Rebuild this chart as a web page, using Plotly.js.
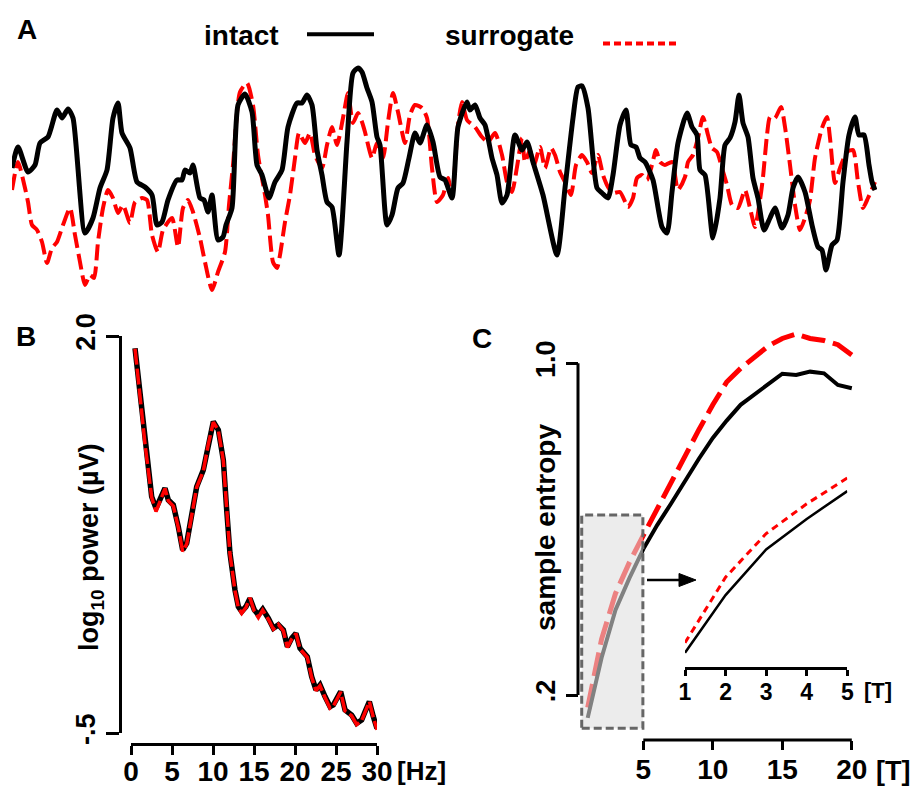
<!DOCTYPE html>
<html>
<head>
<meta charset="utf-8">
<script src="https://cdn.plot.ly/plotly-3.0.1.min.js"></script>
<style>html,body{margin:0;padding:0;background:#fff;}#chart{width:910px;height:786px;}</style>
</head>
<body>
<div id="chart"></div>
<script>
// ---------- Panel A: raw traces (time in samples, amplitude in a.u.) ----------
var timeIntact = [0,6,16,23,28,36,45,50,56,61,73,81,88,95,101,106,110,118,125,133,140,145,150,156,165,170,173,178,181,188,192,196,200,206,211,214,220,226,233,240,245,250,257,263,270,276,285,290,295,300,305,310,315,320,327,335,341,346,350,355,360,365,368,375,380,386,391,397,403,408,415,421,428,433,440,446,455,458,463,468,473,480,485,490,495,503,510,515,521,531,545,553,561,566,570,576,585,590,596,601,608,614,619,624,628,633,641,650,655,660,666,675,680,685,688,693,701,708,713,718,723,727,731,736,741,746,752,758,763,770,776,781,786,793,800,806,810,814,820,825,831,837,843,847,852,857,860,863];
var ampIntact  = [12,33,8,15,37,43,70,62,71,62,-53,-38,-8,10,62,77,47,32,-2,-7,-15,-45,-42,-20,0,0,10,7,15,-18,-20,-32,-15,-60,-57,-45,-28,75,86,68,15,5,-18,-2,10,53,77,77,85,75,30,5,-22,-27,-75,38,107,112,108,92,78,43,35,-45,-35,-8,-3,22,47,37,55,38,3,0,-18,53,78,70,75,62,55,22,5,-23,-15,45,30,38,18,-15,-75,-8,62,93,94,72,-8,-13,-18,5,55,70,35,33,22,18,0,-47,-53,-12,37,67,53,45,10,5,-58,-18,35,42,58,85,57,43,2,-18,-50,-38,-28,-48,-35,-8,3,-12,-45,-67,-70,-90,-65,-60,-2,45,63,45,45,15,-2,-10];

var timeSurrogate = [0,6,13,16,20,25,30,35,40,45,51,58,63,68,73,78,82,86,91,96,101,106,111,118,123,130,135,140,146,151,160,166,171,176,181,188,193,200,206,213,217,221,228,235,241,246,253,256,261,265,268,273,278,283,287,293,298,303,310,315,320,325,331,336,341,346,350,353,360,365,371,376,381,386,393,398,403,410,415,420,425,431,436,440,446,450,455,463,470,476,483,490,495,500,505,510,513,518,522,528,533,539,543,548,553,559,564,570,575,580,586,591,596,601,608,616,621,625,630,635,640,644,648,653,660,666,673,676,681,686,691,696,700,705,710,715,720,726,733,738,743,748,751,755,758,763,769,773,778,783,788,793,798,803,810,815,818,823,828,835,841,846,851,856,863];
var ampSurrogate  = [-10,18,-8,-22,-45,-50,-62,-83,-68,-62,-45,-28,-55,-82,-105,-95,-98,-62,-28,-10,-18,-33,-25,-43,-22,-18,-20,-55,-72,-50,-38,-67,-28,-20,-32,-58,-82,-110,-92,-72,-25,15,88,97,75,25,-15,-35,-82,-88,-75,-42,-15,22,47,37,47,25,12,35,53,35,62,87,57,67,58,48,22,37,22,58,87,68,37,65,75,72,62,12,-22,-15,2,-18,55,78,60,53,43,38,47,25,-2,-12,13,42,18,30,15,33,12,32,25,8,-2,-15,15,25,18,7,25,5,-7,-13,-12,-27,-18,2,5,0,15,30,18,15,18,-10,3,18,25,42,63,45,32,28,12,-5,-25,-28,-10,-28,-47,-20,3,45,63,62,73,53,15,-25,-50,-38,-20,22,52,63,42,-3,12,28,30,-2,-28,-18,-2];

// ---------- Panel B: power spectrum ----------
var freqHz = [0.49,1.10,1.71,2.52,3.05,3.54,4.15,4.55,5.16,5.77,6.30,6.79,7.28,8.01,8.82,9.43,10.04,10.65,11.26,11.67,12.07,12.68,13.09,13.50,14.02,14.51,15.04,15.53,16.06,16.75,17.36,17.97,18.58,19.07,19.59,20.12,20.61,21.50,22.03,22.56,23.05,23.66,24.27,24.67,25.08,25.57,26.10,26.91,27.52,28.13,28.54,29.07,29.55,30.0];
var powIntact = [1.923,1.618,1.325,0.989,0.916,0.968,1.042,0.968,0.937,0.800,0.654,0.696,0.842,1.052,1.157,1.325,1.461,1.409,1.220,0.905,0.633,0.402,0.297,0.266,0.297,0.349,0.276,0.245,0.280,0.224,0.161,0.182,0.150,0.045,0.098,0.129,0.035,-0.018,-0.143,-0.227,-0.196,-0.269,-0.332,-0.322,-0.290,-0.238,-0.353,-0.385,-0.437,-0.416,-0.364,-0.301,-0.395,-0.469];
var powSurrogate = [1.920,1.612,1.320,0.985,0.895,0.960,1.040,0.962,0.930,0.795,0.644,0.690,0.838,1.048,1.150,1.320,1.458,1.405,1.215,0.900,0.628,0.398,0.290,0.255,0.292,0.352,0.268,0.228,0.275,0.218,0.155,0.185,0.145,0.040,0.092,0.128,0.030,-0.022,-0.148,-0.232,-0.200,-0.275,-0.342,-0.330,-0.292,-0.240,-0.360,-0.390,-0.445,-0.420,-0.368,-0.300,-0.400,-0.478];

// ---------- Panel C: sample entropy vs scale ----------
var scaleT = [1,2,3,4,5,6,7,8,9,10,11,12,13,14,15,16,17,18,19,20];
var entIntact = [0.145,0.290,0.405,0.482,0.552,0.610,0.662,0.718,0.770,0.820,0.862,0.900,0.926,0.950,0.975,0.972,0.980,0.976,0.948,0.940];
var entSurrogate = [0.170,0.335,0.445,0.520,0.585,0.650,0.712,0.776,0.840,0.900,0.955,0.988,1.016,1.042,1.060,1.071,1.060,1.055,1.045,1.020];
var insetT = [1,2,3,4,5];

// ---------- helpers ----------
var W = 910, H = 786;
function fx(px){ return px / W; }
function fy(py){ return 1 - py / H; }
var FONT = 'Liberation Sans, Arial, Helvetica, sans-serif';

var traces = [
  {x: timeSurrogate, y: ampSurrogate, xaxis:'x', yaxis:'y', mode:'lines',
   line:{color:'#ff0000', width:4, dash:'16px,6px', shape:'spline', smoothing:0.6}},
  {x: timeIntact, y: ampIntact, xaxis:'x', yaxis:'y', mode:'lines',
   line:{color:'#000000', width:5, shape:'spline', smoothing:0.6}},

  {x: freqHz, y: powIntact, xaxis:'x2', yaxis:'y2', mode:'lines',
   line:{color:'#000000', width:5.5}},
  {x: freqHz, y: powSurrogate, xaxis:'x2', yaxis:'y2', mode:'lines',
   line:{color:'#ff0000', width:3.5, dash:'16px,4px'}},

  {x: scaleT, y: entSurrogate, xaxis:'x3', yaxis:'y3', mode:'lines',
   line:{color:'#ff0000', width:5, dash:'24px,8px'}},
  {x: scaleT, y: entIntact, xaxis:'x3', yaxis:'y3', mode:'lines',
   line:{color:'#000000', width:4}},

  {x: insetT, y: entSurrogate.slice(0,5), xaxis:'x4', yaxis:'y4', mode:'lines',
   line:{color:'#ff0000', width:3, dash:'7px,5px'}},
  {x: insetT, y: entIntact.slice(0,5), xaxis:'x4', yaxis:'y4', mode:'lines',
   line:{color:'#000000', width:2.5}}
];

var tickFontX = {family: FONT, size: 28, color:'#000', weight:'bold'};
var tickFontY = {family: FONT, size: 27, color:'#000', weight:'bold'};
var hidden = {visible:false, showgrid:false, zeroline:false};

function label(text, px, py, size, angle){
  var a = {text: text, xref:'paper', yref:'paper', x: fx(px), y: fy(py),
           xanchor:'center', yanchor:'middle', showarrow:false,
           font:{family:FONT, size:size, color:'#000'}};
  if (angle) a.textangle = angle;
  return a;
}

var layout = {
  width: W, height: H,
  margin:{l:0, r:0, t:0, b:0},
  paper_bgcolor:'#fff', plot_bgcolor:'rgba(0,0,0,0)',
  showlegend:false,
  font:{family: FONT, color:'#000'},
  // Panel A
  xaxis: Object.assign({domain:[fx(12), fx(877)], range:[0,865], anchor:'y'}, hidden),
  yaxis: Object.assign({domain:[fy(295), fy(60)], range:[-115,120], anchor:'x'}, hidden),
  // Panel B
  xaxis2: {domain:[fx(131), fx(377)], range:[0,30], anchor:'free', position: fy(744),
    showline:true, linewidth:3, linecolor:'#000', ticks:'outside', ticklen:9, tickwidth:3,
    tickcolor:'#000', tickvals:[0,5,10,15,20,25,30], ticktext:['0','5','10','15','20','25','30'],
    tickfont: tickFontX, showgrid:false, zeroline:false, ticklabelstandoff:-8},
  yaxis2: {domain:[fy(733.3), fy(336)], range:[-0.5,2.0], anchor:'free', position: fx(120),
    showline:true, linewidth:3, linecolor:'#000', ticks:'outside', ticklen:13, tickwidth:3,
    tickcolor:'#000', tickvals:[-0.5,2.0], ticktext:['-.5','2.0'], tickangle:-90,
    tickfont: tickFontY, showgrid:false, zeroline:false},
  // Panel C
  xaxis3: {domain:[fx(573.8), fx(858.75)], range:[0,20.5], anchor:'free', position: fy(740),
    showline:false, ticks:'outside', ticklen:9, tickwidth:3, tickcolor:'#000',
    tickvals:[5,10,15,20], ticktext:['5','10','15','20'], tickfont: tickFontX,
    showgrid:false, zeroline:false, ticklabelstandoff:-5},
  yaxis3: {domain:[fy(736.5), fy(321.9)], range:[0.1,1.1], anchor:'free', position: fx(578),
    showline:false, ticks:'outside', ticklen:12, tickwidth:3, tickcolor:'#000',
    tickvals:[0.2,1.0], ticktext:['.2','1.0'], tickangle:-90, tickfont: tickFontY,
    showgrid:false, zeroline:false},
  // Inset
  xaxis4: {domain:[fx(685), fx(847.3)], range:[1,5], anchor:'y4',
    showline:true, linewidth:3, linecolor:'#000', ticks:'outside', ticklen:6, tickwidth:3,
    tickcolor:'#000', tickvals:[1,2,3,4,5], ticktext:['1','2','3','4','5'],
    tickfont:{family:FONT, size:23, color:'#000', weight:'bold'}, showgrid:false, zeroline:false,
    ticklabelstandoff:-3},
  yaxis4: Object.assign({domain:[fy(666.7), fy(470)], range:[0.1097,0.6052], anchor:'x4'}, hidden),

  shapes: [
    // panel C axis lines (tick-to-tick)
    {type:'line', xref:'x3', yref:'paper', x0:5, x1:20, y0:fy(740), y1:fy(740), line:{color:'#000', width:3}},
    {type:'line', xref:'paper', yref:'y3', x0:fx(578), x1:fx(578), y0:0.2, y1:1.0, line:{color:'#000', width:3}},
    // zoom box
    {type:'rect', xref:'x3', yref:'y3', x0:0.57, x1:4.97, y0:0.12, y1:0.634, layer:'above',
     fillcolor:'rgba(222,222,222,0.58)', line:{color:'#666666', width:3, dash:'8px,4px'}},
    // arrow from zoom box to inset
    {type:'line', xref:'paper', yref:'paper', x0:fx(647), x1:fx(682), y0:fy(580), y1:fy(580), line:{color:'#000', width:2.5}},
    {type:'path', xref:'paper', yref:'paper',
     path:'M '+fx(679)+','+fy(573.5)+' L '+fx(696)+','+fy(580)+' L '+fx(679)+','+fy(586.5)+' Z',
     fillcolor:'#000', line:{color:'#000', width:1}},
    // legend samples
    {type:'line', xref:'paper', yref:'paper', x0:fx(307), x1:fx(374), y0:fy(34.3), y1:fy(34.3), line:{color:'#000', width:4}},
    {type:'line', xref:'paper', yref:'paper', x0:fx(603), x1:fx(676), y0:fy(43.5), y1:fy(43.5), line:{color:'#ff0000', width:4, dash:'7px,4px'}}
  ],

  annotations: [
    label('<b>A</b>', 27, 30, 28),
    label('<b>B</b>', 26, 336, 28),
    label('<b>C</b>', 482, 338, 28),
    label('<b>intact</b>', 241, 36, 28),
    label('<b>surrogate</b>', 509, 36, 28),
    label('<b>log<sub>10</sub> power (µV)</b>', 91, 547, 27, -90),
    label('<b>sample entropy</b>', 545, 528, 28, -90),
    label('<b>[Hz]</b>', 421, 771, 26),
    label('<b>[T]</b>', 893, 771, 27),
    label('<b>[T]</b>', 878, 690, 22)
  ]
};

Plotly.newPlot('chart', traces, layout, {staticPlot:true, displayModeBar:false});
</script>
</body>
</html>
